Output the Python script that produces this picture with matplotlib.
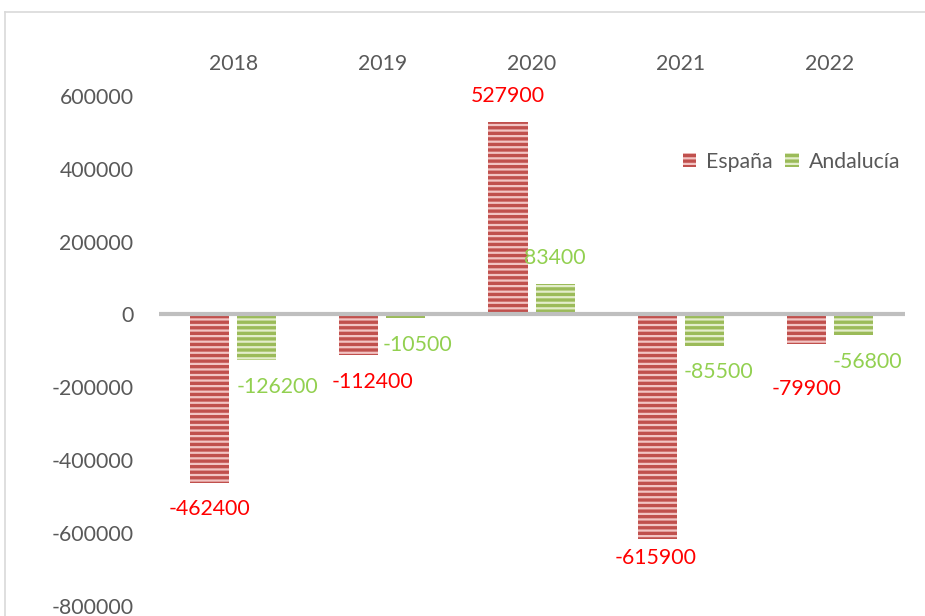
import matplotlib.pyplot as plt
import numpy as np

years = ['2018', '2019', '2020', '2021', '2022']
espana = [-462400, -112400, 527900, -615900, -79900]
andalucia = [-126200, -10500, 83400, -85500, -56800]
# label nudges (pt) from the default position, as Excel moved them
espana_dx = [0, 10, 0, -1, 0]
espana_dy = [0, 0, 0, 5, -14]
andalucia_dx = [15, 8, 0, 10, 10]
andalucia_dy = [0, 0, 0, 0, 0]

red = '#C0504D'
red_stripe = '#F2C4C3'
green = '#9BBB59'
green_stripe = '#E3EDCB'
fs = 15.3

plt.rcParams['font.family'] = ['Lato', 'DejaVu Sans']
plt.rcParams['hatch.linewidth'] = 1.6

fig = plt.figure(figsize=(9.25, 6.16), dpi=100)
ax = fig.add_axes([0.1714, 0.0166, 0.8065, 0.8276])

x = np.arange(len(years))
w = 0.262
off = 0.158
ax.bar(x - off, espana, w, color=red, edgecolor=red_stripe, linewidth=0, hatch='---', label='España')
ax.bar(x + off, andalucia, w, color=green, edgecolor=green_stripe, linewidth=0, hatch='---', label='Andalucía')

for xi, v, dx, dy in zip(x, espana, espana_dx, espana_dy):
    ax.annotate(str(v), (xi - off, v), xytext=(dx, (19 if v > 0 else -19) + dy),
                textcoords='offset points', ha='center', va='center', color='#FF0000', fontsize=fs)
for xi, v, dx, dy in zip(x, andalucia, andalucia_dx, andalucia_dy):
    ax.annotate(str(v), (xi + off, v), xytext=(dx, (19 if v > 0 else -19) + dy),
                textcoords='offset points', ha='center', va='center', color='#92D050', fontsize=fs)

ax.set_xlim(-0.5, 4.5)
ax.set_ylim(-800000, 600000)
ax.set_yticks(np.arange(-800000, 600001, 200000))
ax.set_yticklabels([str(t) for t in range(-800000, 600001, 200000)])
ax.set_xticks(x)
ax.set_xticklabels(years)
ax.xaxis.tick_top()
ax.tick_params(axis='both', length=0, labelsize=fs, colors='#595959')
ax.tick_params(axis='y', pad=18)
ax.tick_params(axis='x', pad=16)
for s in ax.spines.values():
    s.set_visible(False)
ax.axhline(0, color='#BFBFBF', lw=3, zorder=3)

ax.legend(loc='center right', bbox_to_anchor=(1.0, 0.871), frameon=False, ncol=2,
          fontsize=fs, handlelength=0.65, handleheight=0.65, handletextpad=0.45,
          columnspacing=0.6, borderaxespad=0.0, borderpad=0.2, labelcolor='#595959')

# chart area border (left and top visible)
fig.add_artist(plt.Line2D([0.0054, 0.0054], [0, 0.9805], color='#D9D9D9', lw=1.2))
fig.add_artist(plt.Line2D([0.0054, 1.0], [0.9805, 0.9805], color='#D9D9D9', lw=1.2))

fig.savefig('out.png', dpi=100)
